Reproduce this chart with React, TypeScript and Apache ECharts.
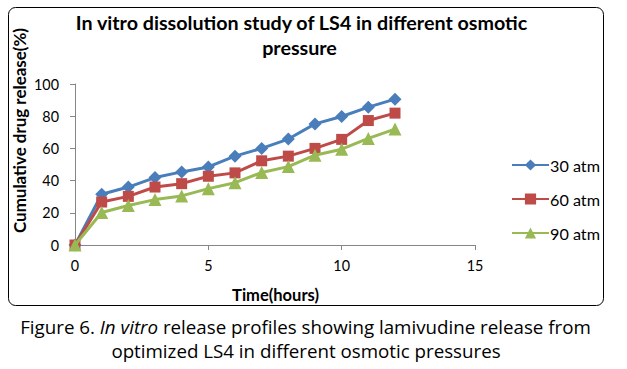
import React, { useEffect, useRef } from "react";
import * as echarts from "echarts";

const hours = [0, 1, 2, 3, 4, 5, 6, 7, 8, 9, 10, 11, 12];
const atm30 = [0, 31.5, 36, 41.9, 45.4, 48.5, 55.2, 60, 65.8, 75.2, 79.8, 85.6, 90.6];
const atm60 = [0, 26.7, 30.2, 36, 38.1, 42.7, 44.8, 52.3, 55.2, 60, 65.6, 77.3, 81.9];
const atm90 = [0, 20.2, 24.5, 28.2, 30.5, 35, 38.7, 45, 48.7, 55.8, 59.5, 66.2, 72];
const seriesNames = ["30 atm", "60 atm", "90 atm"];
const colors = ["#4A7EBB", "#BE4B48", "#98B954"];
const symbols = ["diamond", "rect", "triangle"];
const symbolSizes = [13, 11, 13];
const xTicks = { min: 0, max: 15, interval: 5 };
const yTicks = { min: 0, max: 100, interval: 20 };
const titleLines = ["In vitro dissolution study of LS4 in different osmotic", "pressure"];
const yTitle = "Cumulative drug release(%)";
const xTitle = "Time(hours)";
const captionLine1 = ["Figure 6. ", "In vitro", " release profiles showing lamivudine release from"];
const captionLine2 = "optimized LS4 in different osmotic pressures";

const FONT = "Lato";
const CAP_FONT = "Open Sans";

function measure(text: string, family: string, weight = "normal", style = "normal") {
  const c = document.createElement("canvas").getContext("2d")!;
  c.font = `${style} ${weight} 100px "${family}"`;
  return c.measureText(text).width / 100;
}
function fit(text: string, family: string, target: number, weight = "normal") {
  return target / measure(text, family, weight);
}

export default function App() {
  const ref = useRef<HTMLDivElement>(null);
  useEffect(() => {
    document.body.style.margin = "0";
    const chart = echarts.init(ref.current!, null, { renderer: "svg" });
    const datasets = [atm30, atm60, atm90];

    const titleSize = fit(titleLines[0], FONT, 453, "bold");
    const yTitleSize = fit(yTitle, FONT, 205, "bold");
    const xTitleSize = fit(xTitle, FONT, 87, "bold");
    const tickSize = fit("100", FONT, 25);
    const legendSize = fit("30 atm", FONT, 50);
    const cap1Em =
      measure(captionLine1[0], CAP_FONT) +
      measure(captionLine1[1], CAP_FONT, "normal", "italic") +
      measure(captionLine1[2], CAP_FONT);
    const cap2Em = measure(captionLine2, CAP_FONT);
    const capSize = (573 / cap1Em + 388 / cap2Em) / 2;

    chart.setOption({
      animation: false,
      backgroundColor: "#ffffff",
      grid: { left: 75, right: 152, top: 84, bottom: 124 },
      legend: {
        orient: "vertical",
        left: 511,
        top: 157,
        padding: 0,
        itemWidth: 37,
        itemHeight: 14,
        itemGap: 18,
        data: seriesNames,
        textStyle: { fontFamily: FONT, fontSize: legendSize, color: "#000", padding: [0, 0, 0, -4] },
      },
      xAxis: {
        type: "value",
        min: xTicks.min,
        max: xTicks.max,
        interval: xTicks.interval,
        axisLine: { lineStyle: { color: "#868686", width: 1 } },
        axisTick: { show: true, length: 5, inside: false, lineStyle: { color: "#868686" } },
        axisLabel: { fontFamily: FONT, fontSize: tickSize, color: "#000", margin: 13 },
        splitLine: { show: false },
      },
      yAxis: {
        type: "value",
        min: yTicks.min,
        max: yTicks.max,
        interval: yTicks.interval,
        axisLine: { show: true, lineStyle: { color: "#868686", width: 1 } },
        axisTick: { show: true, length: 5, inside: false, lineStyle: { color: "#868686" } },
        axisLabel: { fontFamily: FONT, fontSize: tickSize, color: "#000", margin: 16 },
        splitLine: { show: false },
      },
      series: datasets.map((d, i) => ({
        name: seriesNames[i],
        type: "line",
        data: hours.map((h, j) => [h, d[j]]),
        symbol: symbols[i],
        symbolSize: symbolSizes[i],
        showAllSymbol: true,
        lineStyle: { color: colors[i], width: 3 },
        itemStyle: { color: colors[i] },
        z: 3 + i,
      })),
      graphic: [
        {
          type: "rect",
          shape: { x: 8.5, y: 7.5, width: 595, height: 298, r: 7 },
          style: { fill: "none", stroke: "#000", lineWidth: 1 },
          silent: true,
          z: -1,
        },
        {
          type: "text",
          x: 301.5,
          y: 22,
          style: {
            text: titleLines[0],
            fontFamily: FONT,
            fontWeight: "bold",
            fontSize: titleSize,
            fill: "#000",
            textAlign: "center",
            textVerticalAlign: "middle",
          },
        },
        {
          type: "text",
          x: 299.5,
          y: 47,
          style: {
            text: titleLines[1],
            fontFamily: FONT,
            fontWeight: "bold",
            fontSize: titleSize,
            fill: "#000",
            textAlign: "center",
            textVerticalAlign: "middle",
          },
        },
        {
          type: "text",
          x: 19,
          y: 130.5,
          rotation: Math.PI / 2,
          style: {
            text: yTitle,
            fontFamily: FONT,
            fontWeight: "bold",
            fontSize: yTitleSize,
            fill: "#000",
            textAlign: "center",
            textVerticalAlign: "middle",
          },
        },
        {
          type: "text",
          x: 275.5,
          y: 295,
          style: {
            text: xTitle,
            fontFamily: FONT,
            fontWeight: "bold",
            fontSize: xTitleSize,
            fill: "#000",
            textAlign: "center",
            textVerticalAlign: "middle",
          },
        },
        {
          type: "text",
          x: 305.5,
          y: 326,
          style: {
            text: `{n|${captionLine1[0]}}{i|${captionLine1[1]}}{n|${captionLine1[2]}}`,
            textAlign: "center",
            textVerticalAlign: "middle",
            rich: {
              n: { fontFamily: CAP_FONT, fontSize: capSize, fill: "#000" },
              i: { fontFamily: CAP_FONT, fontSize: capSize, fontStyle: "italic", fill: "#000" },
            },
          },
        },
        {
          type: "text",
          x: 306,
          y: 350,
          style: {
            text: captionLine2,
            fontFamily: CAP_FONT,
            fontSize: capSize,
            fill: "#000",
            textAlign: "center",
            textVerticalAlign: "middle",
          },
        },
      ],
    });
    return () => chart.dispose();
  }, []);
  return <div ref={ref} style={{ width: 627, height: 369 }} />;
}
